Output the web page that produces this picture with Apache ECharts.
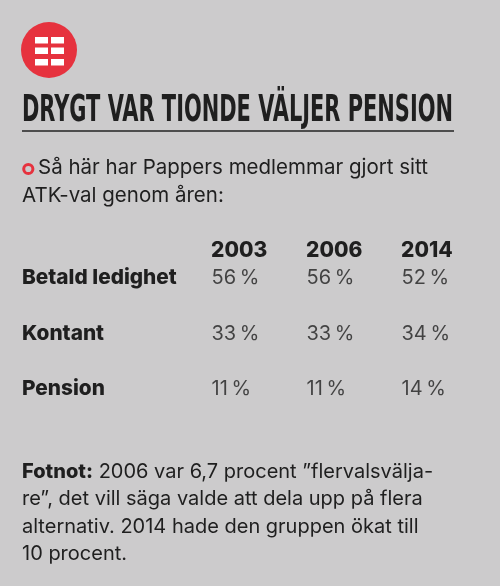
<!DOCTYPE html>
<html>
<head>
<meta charset="utf-8">
<script src="https://cdn.jsdelivr.net/npm/echarts@6/dist/echarts.min.js"></script>
<style>
html,body{margin:0;padding:0;background:#cccbcc;}
#chart{width:500px;height:586px;}
</style>
</head>
<body>
<div id="chart"></div>
<script>
// ---- data ----
const years = ['2003', '2006', '2014'];
const categories = ['Betald ledighet', 'Kontant', 'Pension'];
const betaldLedighet = [56, 56, 52];
const kontant = [33, 33, 34];
const pension = [11, 11, 14];
const titleText = 'DRYGT VAR TIONDE VÄLJER PENSION';
const introLine1 = 'Så här har Pappers medlemmar gjort sitt';
const introLine2 = 'ATK-val genom åren:';
const footLines = [
  '{b|Fotnot:} 2006 var 6,7 procent ”flervalsvälja-',
  're”, det vill säga valde att dela upp på flera',
  'alternativ. 2014 hade den gruppen ökat till',
  '10 procent.'
];

const rows = [betaldLedighet, kontant, pension];
const BODY = 'Inter, "Noto Sans", sans-serif';
const INK = '#1f1f1f';
const RED = '#e6323e';

// measure title to fit a condensed width
const TITLE_FONT = 'bold 37px "Liberation Sans Narrow", "DejaVu Sans Condensed", sans-serif';
const cv = document.createElement('canvas').getContext('2d');
cv.font = TITLE_FONT;
const titleW = cv.measureText(titleText).width;
const titleScale = 431 / titleW;

const chart = echarts.init(document.getElementById('chart'), null, {renderer: 'canvas'});

const series = rows.map((vals, r) => ({
  type: 'scatter',
  name: categories[r],
  symbolSize: 1,
  itemStyle: {color: 'rgba(0,0,0,0)'},
  silent: true,
  data: vals.map((v, i) => [i, r, v]),
  label: {
    show: true,
    position: 'right',
    distance: 0,
    align: 'left',
    verticalAlign: 'middle',
    fontFamily: BODY,
    fontSize: 20,
    color: INK,
    formatter: p => p.value[2] + '\u2009%'
  }
}));

const iconBars = [];
[37, 47.5, 59].forEach(y => {
  iconBars.push({type: 'rect', shape: {x: 35, y: y, width: 13, height: 6.5}, style: {fill: '#fff'}});
  iconBars.push({type: 'rect', shape: {x: 51, y: y, width: 13, height: 6.5}, style: {fill: '#fff'}});
});

chart.setOption({
  backgroundColor: '#cccbcc',
  animation: false,
  grid: {left: 211, right: 99, top: 278, bottom: 197},
  xAxis: {
    type: 'value', min: 0, max: 2, interval: 1, position: 'top',
    axisLine: {show: false}, axisTick: {show: false}, splitLine: {show: false},
    axisLabel: {
      margin: 27, align: 'left', verticalAlign: 'middle',
      fontFamily: BODY, fontWeight: 800, fontSize: 21, color: INK,
      formatter: v => years[v] || ''
    }
  },
  yAxis: {
    type: 'value', min: 0, max: 2, interval: 1, inverse: true,
    axisLine: {show: false}, axisTick: {show: false}, splitLine: {show: false},
    axisLabel: {
      margin: 189, align: 'left', verticalAlign: 'middle',
      fontFamily: BODY, fontWeight: 800, fontSize: 20.8, color: INK,
      formatter: v => categories[v] || ''
    }
  },
  series: series,
  graphic: [
    {type: 'circle', shape: {cx: 49, cy: 50, r: 28}, style: {fill: RED}},
    ...iconBars,
    {type: 'text', x: 22, y: 111, scaleX: titleScale,
     style: {text: titleText, font: TITLE_FONT, fill: INK, verticalAlign: 'middle', align: 'left'}},
    {type: 'line', shape: {x1: 22, y1: 131, x2: 454, y2: 131}, style: {stroke: '#4d4d4d', lineWidth: 2}},
    {type: 'circle', shape: {cx: 28.3, cy: 169, r: 4.6}, style: {fill: 'none', stroke: RED, lineWidth: 3}},
    {type: 'text', x: 38, y: 168, style: {text: introLine1, fontFamily: BODY, fontSize: 20.5, fill: INK, verticalAlign: 'middle'}},
    {type: 'text', x: 22, y: 196, style: {text: introLine2, fontFamily: BODY, fontSize: 20.5, fill: INK, verticalAlign: 'middle'}},
    {type: 'text', x: 22, y: 458,
     style: {text: footLines.join('\n'), fontFamily: BODY, fontSize: 20, lineHeight: 27.5, fill: INK, verticalAlign: 'top',
       rich: {b: {fontFamily: BODY, fontWeight: 800, fontSize: 20, fill: INK}}}}
  ]
});
</script>
</body>
</html>
